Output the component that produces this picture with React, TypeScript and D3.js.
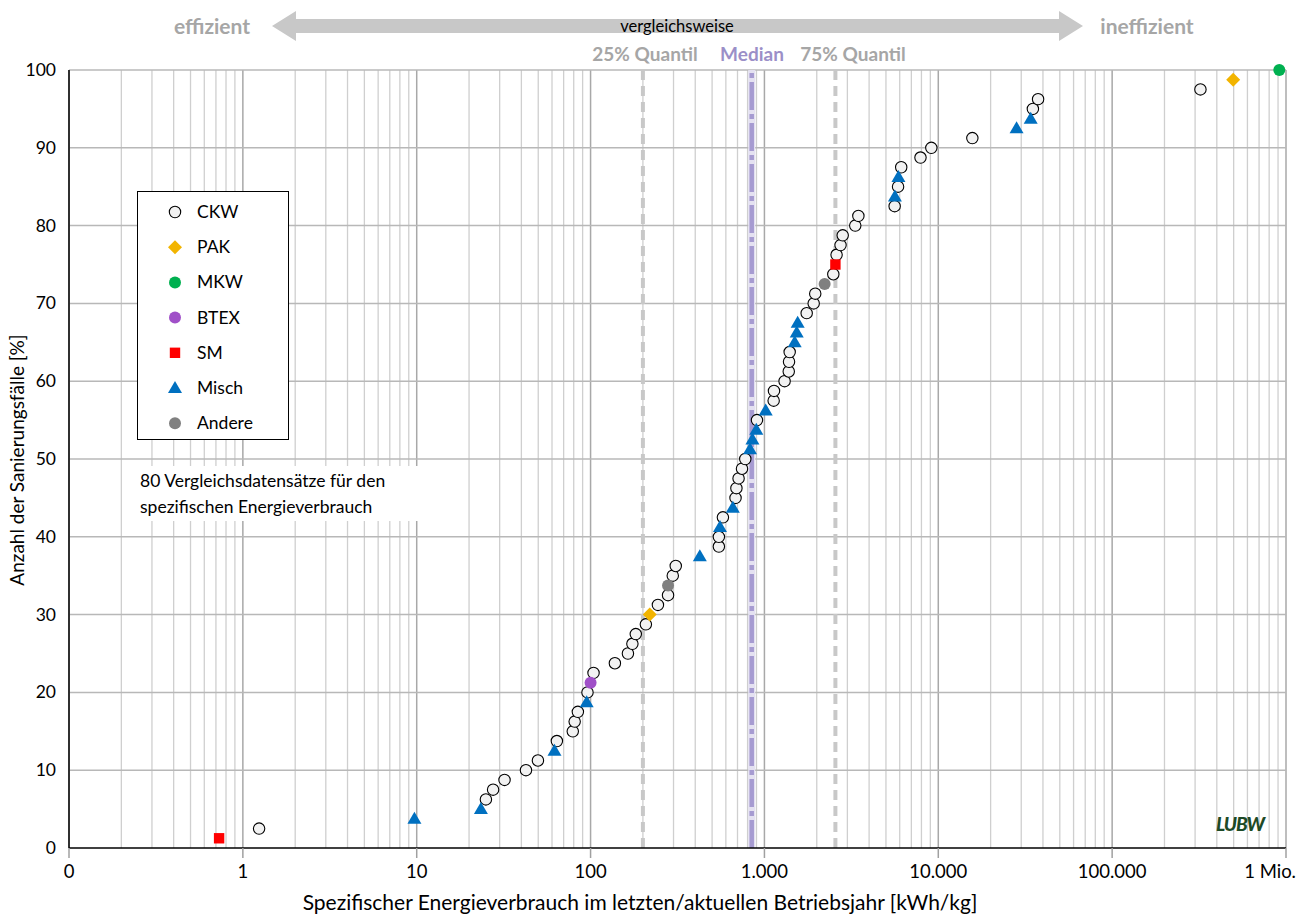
import React from "react";
import * as d3 from "d3";

// ---- data (energy kWh/kg, cumulative share %) ----
const ckw: [number, number][] = [
  [1.24, 2.5], [25, 6.25], [27.5, 7.5], [32, 8.75], [42.5, 10], [49.8, 11.25], [64, 13.75],
  [79, 15], [81, 16.25], [84.5, 17.5], [96, 20], [104, 22.5], [138, 23.75], [164, 25],
  [174, 26.25], [182, 27.5], [208, 28.75], [244, 31.25], [279, 32.5], [297, 35], [309, 36.25],
  [547, 38.75], [547, 40], [577, 42.5], [682, 45], [690, 46.25], [710, 47.5], [743, 48.75],
  [776, 50], [906, 55], [1130, 57.5], [1135, 58.75], [1306, 60], [1380, 61.25], [1385, 62.5],
  [1397, 63.75], [1750, 68.75], [1920, 70], [1960, 71.25], [2490, 73.75], [2600, 76.25],
  [2740, 77.5], [2820, 78.75], [3330, 80], [3470, 81.25], [5610, 82.5], [5870, 85],
  [6120, 87.5], [7900, 88.75], [9120, 90], [15700, 91.25], [35000, 95], [37500, 96.25],
  [322000, 97.5],
];
const pak: [number, number][] = [[219, 30], [497000, 98.75]];
const mkw: [number, number][] = [[915000, 100]];
const btex: [number, number][] = [[100, 21.25]];
const sm: [number, number][] = [[0.73, 1.25], [2560, 75]];
const misch: [number, number][] = [
  [9.7, 3.75], [23.4, 5], [62, 12.5], [95, 18.75], [425, 37.5], [555, 41.25], [658, 43.75],
  [826, 51.25], [853, 52.5], [898, 53.75], [1017, 56.25], [1493, 65], [1534, 66.25],
  [1553, 67.5], [5630, 83.75], [5900, 86.25], [28200, 92.5], [34000, 93.75],
];
const andere: [number, number][] = [[279, 33.75], [2220, 72.5]];

const q25 = 200;
const median = 845;
const q75 = 2560;

const xTickValues = [0.1, 1, 10, 100, 1000, 10000, 100000, 1000000];
const xTickLabels = ["0", "1", "10", "100", "1.000", "10.000", "100.000", "1 Mio."];
const yTickValues = [0, 10, 20, 30, 40, 50, 60, 70, 80, 90, 100];

const legendNames = ["CKW", "PAK", "MKW", "BTEX", "SM", "Misch", "Andere"];

const FONT = "Lato, Carlito, Calibri, 'Open Sans', sans-serif";

const C = {
  ckwFill: "#f2f2f2",
  pak: "#f2b400",
  mkw: "#00b050",
  btex: "#a050c8",
  sm: "#ff0000",
  misch: "#0070c0",
  andere: "#808080",
};

function Marker({ type, x, y }: { type: string; x: number; y: number }) {
  switch (type) {
    case "CKW":
      return <circle cx={x} cy={y} r={5.7} fill={C.ckwFill} stroke="#000" strokeWidth={1.1} />;
    case "PAK":
      return <path d={`M${x},${y - 7} L${x + 7},${y} L${x},${y + 7} L${x - 7},${y} Z`} fill={C.pak} />;
    case "MKW":
      return <circle cx={x} cy={y} r={6} fill={C.mkw} />;
    case "BTEX":
      return <circle cx={x} cy={y} r={6} fill={C.btex} />;
    case "SM":
      return <rect x={x - 5.2} y={y - 5.2} width={10.4} height={10.4} fill={C.sm} />;
    case "Misch":
      return <path d={`M${x},${y - 7} L${x + 7},${y + 5} L${x - 7},${y + 5} Z`} fill={C.misch} />;
    default:
      return <circle cx={x} cy={y} r={6} fill={C.andere} />;
  }
}

export default function App() {
  const W = 1297, H = 918;
  const x = d3.scaleLog().domain([0.1, 1e6]).range([69, 1286]);
  const y = d3.scaleLinear().domain([0, 100]).range([848, 70]);

  const minors: number[] = [];
  for (let e = -1; e < 6; e++) {
    for (let m = 2; m <= 9; m++) minors.push(m * Math.pow(10, e));
  }

  const series: { type: string; data: [number, number][] }[] = [
    { type: "CKW", data: ckw },
    { type: "Misch", data: misch },
    { type: "PAK", data: pak },
    { type: "BTEX", data: btex },
    { type: "Andere", data: andere },
    { type: "SM", data: sm },
    { type: "MKW", data: mkw },
  ];

  const arrowL = 272, arrowR = 1083, ay = 26, head = 24;
  const arrowPts = [
    [arrowL, ay], [arrowL + head, ay - 15], [arrowL + head, ay - 7], [arrowR - head, ay - 7],
    [arrowR - head, ay - 15], [arrowR, ay], [arrowR - head, ay + 15], [arrowR - head, ay + 7],
    [arrowL + head, ay + 7], [arrowL + head, ay + 15],
  ].map((p) => p.join(",")).join(" ");

  return (
    <svg width={W} height={H} style={{ position: "absolute", left: 0, top: 0, display: "block", background: "#fff" }} fontFamily={FONT} fontWeight={400}>
      {/* vertical grid */}
      {minors.map((v, i) => (
        <line key={"mi" + i} x1={x(v)} x2={x(v)} y1={y(0)} y2={y(100)} stroke="#cfcfcf" strokeWidth={1.3} />
      ))}
      {xTickValues.map((v, i) => (
        <line key={"ma" + i} x1={x(v)} x2={x(v)} y1={y(0)} y2={y(100)} stroke="#a8a8a8" strokeWidth={1.5} />
      ))}
      {/* horizontal grid */}
      {yTickValues.slice(1).map((v) => (
        <line key={"h" + v} x1={x(0.1)} x2={x(1e6)} y1={y(v)} y2={y(v)} stroke="#b8b8b8" strokeWidth={1.5} />
      ))}

      {/* quantile lines */}
      <line x1={x(q25)} x2={x(q25)} y1={y(0)} y2={y(100)} stroke="#c8c8c8" strokeWidth={4} strokeDasharray="10,6" />
      <line x1={x(q75)} x2={x(q75)} y1={y(0)} y2={y(100)} stroke="#c8c8c8" strokeWidth={4} strokeDasharray="10,6" />
      <line x1={x(median)} x2={x(median)} y1={y(0)} y2={y(100)} stroke="#e4e1f1" strokeWidth={7} />
      <line x1={x(median)} x2={x(median)} y1={y(0)} y2={y(100)} stroke="#a69bd1" strokeWidth={4.5} strokeDasharray="28,4,5,4" />

      {/* axes */}
      <line x1={x(0.1)} x2={x(0.1)} y1={y(0)} y2={y(100)} stroke="#000" strokeWidth={1.5} />
      <line x1={x(0.1)} x2={x(1e6)} y1={y(0)} y2={y(0)} stroke="#000" strokeWidth={1.5} />
      {xTickValues.map((v, i) => (
        <line key={"t" + i} x1={x(v)} x2={x(v)} y1={y(0)} y2={y(0) + 10} stroke="#a0a0a0" strokeWidth={1.5} />
      ))}
      {xTickValues.map((v, i) => (
        <text key={"xl" + i} x={i === xTickValues.length - 1 ? 1296 : x(v)} y={878} fontSize={18.5}
          textAnchor={i === xTickValues.length - 1 ? "end" : "middle"} fill="#000">{xTickLabels[i]}</text>
      ))}
      {yTickValues.map((v) => (
        <text key={"yl" + v} x={56} y={y(v) + 6} fontSize={17.5} textAnchor="end" fill="#000">{v}</text>
      ))}
      <text x={640} y={910} fontSize={21} textAnchor="middle" fill="#000">
        Spezifischer Energieverbrauch im letzten/aktuellen Betriebsjahr [kWh/kg]
      </text>
      <text transform={`translate(24,${460}) rotate(-90)`} fontSize={19} textAnchor="middle" fill="#000">
        Anzahl der Sanierungsfälle [%]
      </text>

      {/* points */}
      {series.map((s) =>
        s.data.map((d, i) => <Marker key={s.type + i} type={s.type} x={x(d[0])} y={y(d[1])} />)
      )}

      {/* legend */}
      <rect x={137.5} y={191.5} width={151} height={248} fill="#fff" stroke="#000" strokeWidth={1} />
      {legendNames.map((n, i) => (
        <g key={n}>
          <Marker type={n} x={175} y={212 + i * 35.2} />
          <text x={197} y={212 + i * 35.2 + 6} fontSize={17.5} fill="#000">{n}</text>
        </g>
      ))}

      {/* note box */}
      <rect x={133} y={466} width={287} height={55} fill="#fff" />
      <text x={140} y={487} fontSize={17.5} fill="#000">80 Vergleichsdatensätze für den</text>
      <text x={140} y={513} fontSize={17.5} fill="#000">spezifischen Energieverbrauch</text>

      {/* top arrow */}
      <polygon points={arrowPts} fill="#c8c8c8" />
      <text x={677} y={32} fontSize={16.5} textAnchor="middle" fill="#000">vergleichsweise</text>
      <text x={212} y={34} fontSize={21} fontWeight="bold" textAnchor="middle" fill="#a6a6a6">effizient</text>
      <text x={1147} y={34} fontSize={21} fontWeight="bold" textAnchor="middle" fill="#a6a6a6">ineffizient</text>

      <text x={645} y={61} fontSize={19} fontWeight="bold" textAnchor="middle" fill="#a6a6a6">25% Quantil</text>
      <text x={752} y={61} fontSize={19} fontWeight="bold" textAnchor="middle" fill="#9b8fc8">Median</text>
      <text x={853} y={61} fontSize={19} fontWeight="bold" textAnchor="middle" fill="#a6a6a6">75% Quantil</text>

      {/* logo */}
      <text x={1240} y={831} fontSize={19} fontWeight="900" fontStyle="italic" textAnchor="middle" fill="#1d4a26" letterSpacing={-1}>LUBW</text>
    </svg>
  );
}
